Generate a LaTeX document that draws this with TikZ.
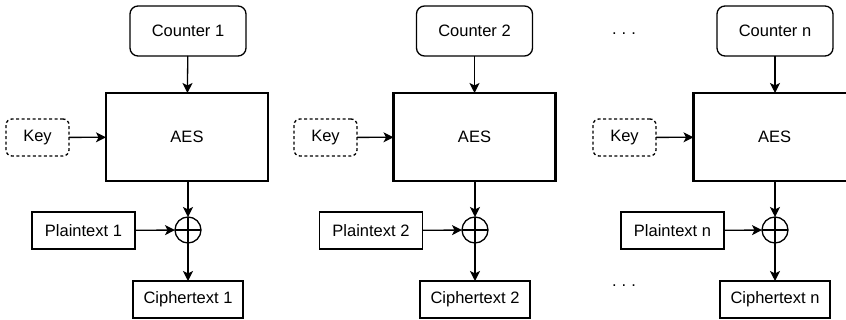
\documentclass[tikz,border=0pt]{standalone}
\usepackage{fontspec}
\setmainfont{Liberation Sans}
\usetikzlibrary{arrows.meta}

\begin{document}
\begin{tikzpicture}[x=1pt,y=-1pt,
    font=\fontsize{16.5}{20}\selectfont,
    every node/.style={inner sep=0pt,outer sep=0pt},
    every path/.style={line width=1.3pt},
    ctrbox/.style={draw,rounded corners=8pt,minimum width=116pt,minimum height=50pt},
    aesbox/.style={draw,line width=2.8pt,minimum width=162pt,minimum height=88pt},
    keybox/.style={draw,dashed,dash pattern=on 3pt off 2.5pt,rounded corners=6pt,minimum width=63pt,minimum height=37pt},
    txtbox/.style={draw,minimum height=37pt},
    xorop/.style={draw,circle,minimum size=26pt},
    flow/.style={-{Stealth[length=10pt,width=10pt,inset=2.5pt]}}]
  \useasboundingbox (0,0) rectangle (846,320);
  % block 1
  \node[ctrbox] (counter1) at (188,31) {Counter 1};
  \node[aesbox] (aes1) at (187,137) {AES};
  \node[keybox] (key1) at (37.5,137.5) {Key};
  \node[xorop] (xor1) at (188,230) {};
  \node[txtbox,minimum width=103pt] (plain1) at (83.5,230.5) {Plaintext 1};
  \node[txtbox,minimum width=110pt] (cipher1) at (188,299.5) {Ciphertext 1};
  % block 2
  \node[ctrbox] (counter2) at (474.5,31) {Counter 2};
  \node[aesbox] (aes2) at (474.5,137) {AES};
  \node[keybox] (key2) at (325.5,137.5) {Key};
  \node[xorop] (xor2) at (475,230) {};
  \node[txtbox,minimum width=103pt] (plain2) at (371,230.5) {Plaintext 2};
  \node[txtbox,minimum width=110pt] (cipher2) at (475,299.5) {Ciphertext 2};
  % block n
  \node[ctrbox] (countern) at (775,31) {Counter n};
  \node[aesbox] (aesn) at (774.5,137) {AES};
  \node[keybox] (keyn) at (624.5,137.5) {Key};
  \node[xorop] (xorn) at (775,230) {};
  \node[txtbox,minimum width=103pt] (plainn) at (672.5,230.5) {Plaintext n};
  \node[txtbox,minimum width=110pt] (ciphern) at (775,299.5) {Ciphertext n};
  % dots
  \node[anchor=base] (dotstop) at (624,35) {.\hspace{5pt}.\hspace{5pt}.};
  \node[anchor=base] (dotsbot) at (624,287) {.\hspace{5pt}.\hspace{5pt}.};
  % edges
  \draw[flow] (counter1) -- (aes1);
  \draw[flow] (key1) -- (aes1);
  \draw[flow] (aes1.south -| xor1) -- (xor1);
  \draw[flow] (plain1) -- (xor1);
  \draw[flow] (xor1) -- (cipher1);
  \draw[flow] (counter2) -- (aes2);
  \draw[flow] (key2) -- (aes2);
  \draw[flow] (aes2.south -| xor2) -- (xor2);
  \draw[flow] (plain2) -- (xor2);
  \draw[flow] (xor2) -- (cipher2);
  \draw[flow] (countern) -- (countern |- aesn.north);
  \draw[flow] (keyn) -- (aesn);
  \draw[flow] (aesn.south -| xorn) -- (xorn);
  \draw[flow] (plainn) -- (xorn);
  \draw[flow] (xorn) -- (ciphern);
  % xor crosses
  \draw (xor1.north) -- (xor1.south) (xor1.west) -- (xor1.east);
  \draw (xor2.north) -- (xor2.south) (xor2.west) -- (xor2.east);
  \draw (xorn.north) -- (xorn.south) (xorn.west) -- (xorn.east);
\end{tikzpicture}
\end{document}
